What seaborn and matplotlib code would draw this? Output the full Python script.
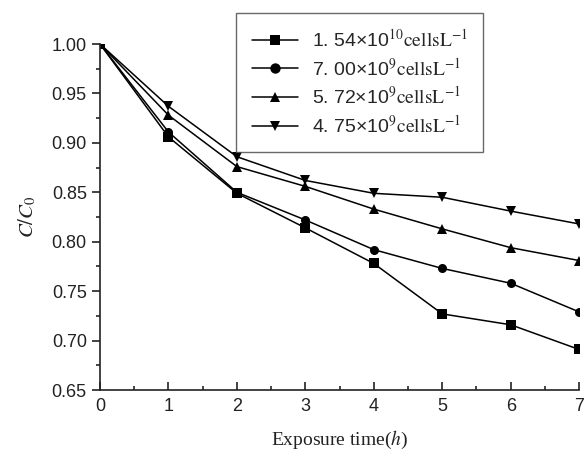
import matplotlib
matplotlib.use("Agg")
import matplotlib.pyplot as plt
import seaborn as sns
import pandas as pd
from matplotlib.ticker import MultipleLocator

time_h = [0, 1, 2, 3, 4, 5, 6, 7]
conc_154e10 = [1.000, 0.906, 0.849, 0.814, 0.778, 0.727, 0.716, 0.691]
conc_700e9 = [1.000, 0.911, 0.850, 0.822, 0.792, 0.773, 0.758, 0.729]
conc_572e9 = [1.000, 0.928, 0.876, 0.856, 0.833, 0.813, 0.794, 0.781]
conc_475e9 = [1.000, 0.937, 0.886, 0.862, 0.849, 0.845, 0.831, 0.818]

labels = ["1. 54×10$^{10}$$\\mathrm{cellsL}^{-1}$",
          "7. 00×10$^{9}$$\\mathrm{cellsL}^{-1}$",
          "5. 72×10$^{9}$$\\mathrm{cellsL}^{-1}$",
          "4. 75×10$^{9}$$\\mathrm{cellsL}^{-1}$"]
markers = ['s', 'o', '^', 'v']


def main():
    sns.set_style("ticks")
    plt.rcParams['font.family'] = ['Liberation Sans', 'DejaVu Sans']
    plt.rcParams['mathtext.fontset'] = 'stix'

    rows = []
    for lab, vals in zip(labels, [conc_154e10, conc_700e9, conc_572e9, conc_475e9]):
        for t, v in zip(time_h, vals):
            rows.append({"time": t, "ratio": v, "series": lab})
    df = pd.DataFrame(rows)

    fig = plt.figure(figsize=(5.85, 4.57), dpi=100)
    ax = fig.add_axes([0.171, 0.1466, 0.819, 0.757])
    sns.lineplot(data=df, x="time", y="ratio", hue="series", style="series",
                 markers=markers, dashes=False, palette=['black'] * 4,
                 markersize=6.5, linewidth=1.1, markeredgewidth=0, ax=ax,
                 legend='full')

    ax.set_xlim(0, 7)
    ax.set_ylim(0.65, 1.0)
    ax.xaxis.set_major_locator(MultipleLocator(1))
    ax.xaxis.set_minor_locator(MultipleLocator(0.5))
    ax.yaxis.set_major_locator(MultipleLocator(0.05))
    ax.yaxis.set_minor_locator(MultipleLocator(0.025))
    ax.yaxis.set_major_formatter(matplotlib.ticker.FormatStrFormatter('%.2f'))
    ax.tick_params(axis='x', which='major', direction='in', length=6, width=1.2,
                   labelsize=13, colors='#222222', pad=6)
    ax.tick_params(axis='x', which='minor', direction='in', length=3, width=1.2)
    ax.tick_params(axis='y', which='major', direction='out', length=6, width=1.2,
                   labelsize=13, colors='#222222')
    ax.tick_params(axis='y', which='minor', direction='out', length=3, width=1.2)
    for s in ['top', 'right']:
        ax.spines[s].set_visible(False)
    for s in ['left', 'bottom']:
        ax.spines[s].set_linewidth(1.2)
        ax.spines[s].set_color('#222222')
    ax.set_xlabel("Exposure time($h$)", family='Liberation Serif', fontsize=14,
                  color='#222222', labelpad=10)
    ax.set_ylabel("$C/C_0$", fontsize=15, color='#222222', labelpad=10)

    handles, labs = ax.get_legend_handles_labels()
    ax.legend(handles, labs, loc='upper left',
              bbox_to_anchor=(236 / 585, 1 - 13 / 457), bbox_transform=fig.transFigure,
              fontsize=14, frameon=True, fancybox=False, edgecolor='#444444',
              handlelength=2.4, labelspacing=0.35, borderpad=0.8, handletextpad=0.7,
              borderaxespad=0, markerscale=1.15)
    ax.get_legend().get_frame().set_linewidth(1.0)
    ax.get_legend().set_clip_on(False)

    plt.savefig('out.png', dpi=100)


if __name__ == '__main__':
    main()
